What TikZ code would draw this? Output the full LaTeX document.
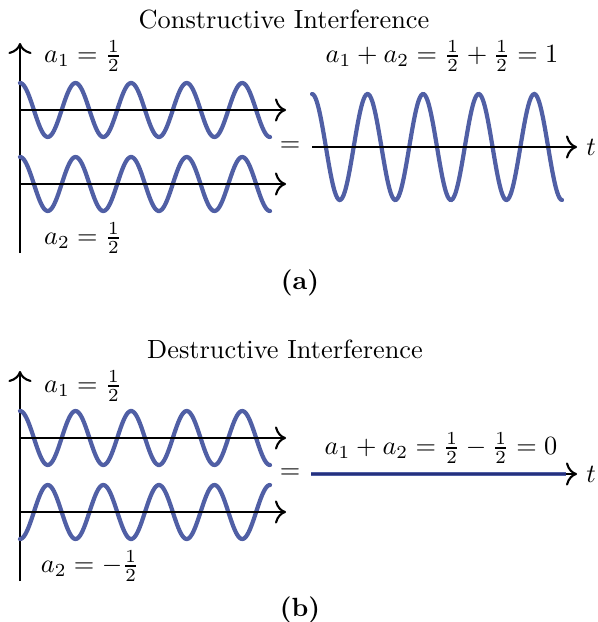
\documentclass[tikz,border=0pt]{standalone}
\usepackage{amsmath}
\usetikzlibrary{arrows.meta}
\definecolor{wave}{RGB}{80,95,165}
\definecolor{navyline}{RGB}{38,48,125}
\begin{document}
\begin{tikzpicture}[x=0.38pt,y=-0.38pt,
  axis/.style={line width=0.8pt,-{To[scale=1.25]}},
  wavepath/.style={wave,line width=1.6pt,line cap=round},
  lbl/.style={inner sep=0pt,font=\normalsize}]
\useasboundingbox (0,0) rectangle (597,622);
% ---------- (a) ----------
\node[lbl] (titleA) at (284,20) {Constructive Interference};
\coordinate (vA0) at (20,253);
\coordinate (vA1) at (20,43);
\draw[axis] (vA0) -- (vA1);
\draw[wavepath] plot[domain=20:270,samples=200,smooth] (\x,{110-27*cos(6.4795*(\x-20))});
\draw[wavepath] plot[domain=20:270,samples=200,smooth] (\x,{184-27*cos(6.4795*(\x-20))});
\coordinate (hA1s) at (20,110); \coordinate (hA1e) at (286,110);
\coordinate (hA2s) at (20,184); \coordinate (hA2e) at (286,184);
\draw[axis] (hA1s) -- (hA1e);
\draw[axis] (hA2s) -- (hA2e);
\node[lbl] (a1A) at (83,56) {$a_1=\frac{1}{2}$};
\node[lbl] (a2A) at (83,238) {$a_2=\frac{1}{2}$};
\node[lbl] (eqA) at (290,147) {$=$};
\draw[wavepath] plot[domain=312:562,samples=200,smooth] (\x,{147-53*cos(6.4795*(\x-312))});
\coordinate (rAs) at (312,147);
\coordinate (rAe) at (577,147);
\node[lbl] (tA) at (591,147) {$t$};
\draw[axis] (rAs) -- (rAe);
\node[lbl] (sumA) at (442,56) {$a_1+a_2=\frac{1}{2}+\frac{1}{2}=1$};
\node[lbl] (capA) at (300,283) {\textbf{(a)}};
% ---------- (b) ----------
\node[lbl] (titleB) at (285,349) {Destructive Interference};
\coordinate (vB0) at (20,581);
\coordinate (vB1) at (20,371);
\draw[axis] (vB0) -- (vB1);
\draw[wavepath] plot[domain=20:270,samples=200,smooth] (\x,{438-27*cos(6.4795*(\x-20))});
\draw[wavepath] plot[domain=20:270,samples=200,smooth] (\x,{512+27*cos(6.4795*(\x-20))});
\coordinate (hB1s) at (20,438); \coordinate (hB1e) at (286,438);
\coordinate (hB2s) at (20,512); \coordinate (hB2e) at (286,512);
\draw[axis] (hB1s) -- (hB1e);
\draw[axis] (hB2s) -- (hB2e);
\node[lbl] (a1B) at (83,386) {$a_1=\frac{1}{2}$};
\node[lbl] (a2B) at (90,566) {$a_2=-\frac{1}{2}$};
\node[lbl] (eqB) at (290,474) {$=$};
\coordinate (rBs) at (311,474);
\coordinate (rBe) at (566,474);
\coordinate (rBt) at (577,474);
\node[lbl] (tB) at (591,474) {$t$};
\draw[axis] (rBs) -- (rBt);
\draw[wave,line width=1.6pt] (rBs) -- (rBe);
\draw[navyline,line width=0.9pt] (rBs) -- (rBe);
\node[lbl] (sumB) at (441,448) {$a_1+a_2=\frac{1}{2}-\frac{1}{2}=0$};
\node[lbl] (capB) at (300,610) {\textbf{(b)}};
\end{tikzpicture}
\end{document}
